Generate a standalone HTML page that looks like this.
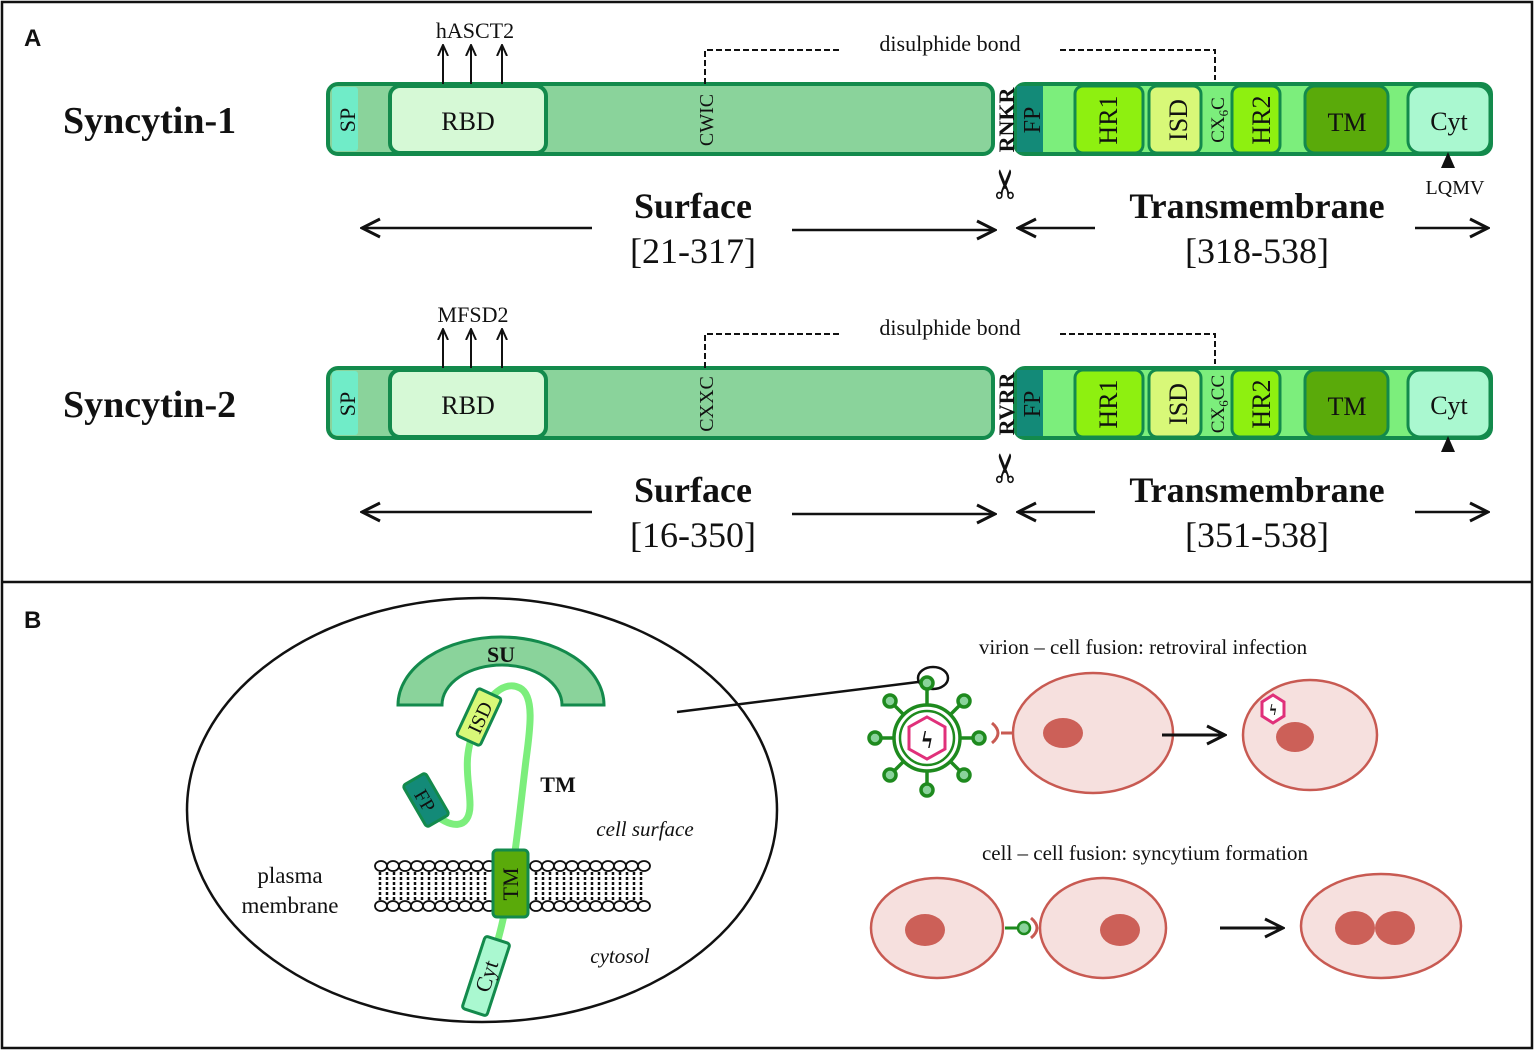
<!DOCTYPE html>
<html><head><meta charset="utf-8"><style>
html,body{margin:0;padding:0;background:#fff}
svg{display:block}
text{font-family:"Liberation Serif",serif;fill:#111}
</style></head><body>
<svg width="1535" height="1051" viewBox="0 0 1535 1051" xmlns="http://www.w3.org/2000/svg">
<defs>
<marker id="ah" markerWidth="12" markerHeight="12" refX="10" refY="6" orient="auto" markerUnits="userSpaceOnUse">
<path d="M0,1 L11,6 L0,11" fill="none" stroke="#111" stroke-width="2"/></marker>
<marker id="ab" markerWidth="22" markerHeight="22" refX="20" refY="11" orient="auto" markerUnits="userSpaceOnUse">
<path d="M2,2 L20,11 L2,20" fill="none" stroke="#111" stroke-width="3"/></marker>
<g id="bar">
<rect x="328" y="84" width="665" height="70" rx="10" fill="#8ad39b" stroke="#138a4c" stroke-width="4"/>
<rect x="332" y="87" width="26" height="64" rx="3" fill="#70ecc8"/>
<rect x="390" y="86" width="156" height="67" rx="10" fill="#d6f9d6" stroke="#138a4c" stroke-width="4"/>
<text x="468" y="130" font-size="26" text-anchor="middle">RBD</text>
<text transform="translate(355,120) rotate(-90)" font-size="22" text-anchor="middle">SP</text>
<rect x="1015" y="84" width="476" height="70" rx="10" fill="#7cee7c" stroke="#138a4c" stroke-width="4"/>
<rect x="1017" y="86" width="26" height="66" fill="#138a78"/>
<text transform="translate(1040,120) rotate(-90)" font-size="24" text-anchor="middle">FP</text>
<rect x="1075" y="86" width="68" height="67" rx="8" fill="#8ef010" stroke="#138a4c" stroke-width="3"/>
<text transform="translate(1117,120) rotate(-90)" font-size="26" text-anchor="middle">HR1</text>
<rect x="1149" y="86" width="52" height="67" rx="8" fill="#d8f878" stroke="#138a4c" stroke-width="3"/>
<rect x="1232" y="86" width="48" height="67" rx="8" fill="#8ef010" stroke="#138a4c" stroke-width="3"/>
<text transform="translate(1187,120) rotate(-90)" font-size="26" text-anchor="middle">ISD</text>
<text transform="translate(1270,120) rotate(-90)" font-size="26" text-anchor="middle">HR2</text>
<rect x="1305" y="86" width="83" height="67" rx="10" fill="#5aaa0a" stroke="#138a4c" stroke-width="3"/>
<text x="1347" y="131" font-size="26" text-anchor="middle">TM</text>
<rect x="1408" y="86" width="82" height="67" rx="12" fill="#aaf8d0" stroke="#138a4c" stroke-width="3"/>
<text x="1449" y="130" font-size="26" text-anchor="middle">Cyt</text>
<path d="M705,84 V50 H840 M1060,50 H1215 V80" fill="none" stroke="#111" stroke-width="2" stroke-dasharray="6,3"/>
<text x="950" y="51" font-size="22" text-anchor="middle">disulphide bond</text>
<line x1="443" y1="84" x2="443" y2="46" stroke="#111" stroke-width="2" marker-end="url(#ah)"/>
<line x1="471" y1="84" x2="471" y2="46" stroke="#111" stroke-width="2" marker-end="url(#ah)"/>
<line x1="502" y1="84" x2="502" y2="46" stroke="#111" stroke-width="2" marker-end="url(#ah)"/>
<text transform="translate(1006,184) rotate(-90)" font-size="40" text-anchor="middle" dominant-baseline="central">✂</text>
<path d="M1448,152 l-7,16 h14z" fill="#111"/>
<text x="693" y="218" font-size="36" font-weight="bold" text-anchor="middle">Surface</text>
<text x="1257" y="218" font-size="36" font-weight="bold" text-anchor="middle">Transmembrane</text>
<line x1="592" y1="228" x2="362" y2="228" stroke="#111" stroke-width="2.5" marker-end="url(#ab)"/>
<line x1="792" y1="230" x2="995" y2="230" stroke="#111" stroke-width="2.5" marker-end="url(#ab)"/>
<line x1="1095" y1="228" x2="1018" y2="228" stroke="#111" stroke-width="2.5" marker-end="url(#ab)"/>
<line x1="1415" y1="228" x2="1488" y2="228" stroke="#111" stroke-width="2.5" marker-end="url(#ab)"/>
</g>
</defs>
<rect x="2" y="2" width="1530" height="1046" fill="none" stroke="#111" stroke-width="2.5"/>
<line x1="2" y1="582" x2="1532" y2="582" stroke="#111" stroke-width="2.5"/>
<text x="24" y="46" font-size="24" font-weight="bold" style="font-family:'Liberation Sans',sans-serif">A</text>
<text x="24" y="628" font-size="24" font-weight="bold" style="font-family:'Liberation Sans',sans-serif">B</text>

<use href="#bar"/>
<text x="63" y="133" font-size="38" font-weight="bold">Syncytin-1</text>
<text x="475" y="38" font-size="22" text-anchor="middle">hASCT2</text>
<text transform="translate(713,120) rotate(-90)" font-size="20" text-anchor="middle">CWIC</text>
<text transform="translate(1014,120) rotate(-90)" font-size="22" font-weight="bold" text-anchor="middle">RNKR</text>
<text transform="translate(1224,120) rotate(-90)" font-size="19" text-anchor="middle">CX<tspan font-size="13" dy="4">6</tspan><tspan dy="-4">C</tspan></text>
<text x="1455" y="194" font-size="20" text-anchor="middle">LQMV</text>
<text x="693" y="263" font-size="36" text-anchor="middle">[21-317]</text>
<text x="1257" y="263" font-size="36" text-anchor="middle">[318-538]</text>

<g transform="translate(0,284)"><use href="#bar"/></g>
<text x="63" y="417" font-size="38" font-weight="bold">Syncytin-2</text>
<text x="473" y="322" font-size="22" text-anchor="middle">MFSD2</text>
<text transform="translate(713,404) rotate(-90)" font-size="20" text-anchor="middle">CXXC</text>
<text transform="translate(1014,404) rotate(-90)" font-size="22" font-weight="bold" text-anchor="middle">RVRR</text>
<text transform="translate(1224,404) rotate(-90)" font-size="19" text-anchor="middle">CX<tspan font-size="13" dy="4">6</tspan><tspan dy="-4">CC</tspan></text>
<text x="693" y="547" font-size="36" text-anchor="middle">[16-350]</text>
<text x="1257" y="547" font-size="36" text-anchor="middle">[351-538]</text>

<!-- Panel B -->
<ellipse cx="482" cy="810" rx="295" ry="212" fill="none" stroke="#111" stroke-width="2.5"/>
<line x1="677" y1="712" x2="918" y2="682" stroke="#111" stroke-width="2.5"/>
<path d="M398,705 A103,68 0 0 1 604,705 H562 A60,40 0 0 0 442,705 Z" fill="#8ad39b" stroke="#138a4c" stroke-width="3"/>
<text x="501" y="662" font-size="22" font-weight="bold" text-anchor="middle">SU</text>
<!-- membrane -->
<g>
<rect x="373" y="862" width="276" height="48" fill="#fff"/>
<g stroke="#111" stroke-width="2.5" stroke-dasharray="3,2">
<path d="M380,872 V900 M387,872 V900 M394,872 V900 M401,872 V900 M408,872 V900 M415,872 V900 M422,872 V900 M429,872 V900 M436,872 V900 M443,872 V900 M450,872 V900 M457,872 V900 M464,872 V900 M471,872 V900 M478,872 V900 M485,872 V900 M536,872 V900 M543,872 V900 M550,872 V900 M557,872 V900 M564,872 V900 M571,872 V900 M578,872 V900 M585,872 V900 M592,872 V900 M599,872 V900 M606,872 V900 M613,872 V900 M620,872 V900 M627,872 V900 M634,872 V900 M641,872 V900"/>
</g>
<g fill="#fff" stroke="#111" stroke-width="1.8" id="row">
<ellipse cx="381" cy="866" rx="6" ry="5"/><ellipse cx="393" cy="866" rx="6" ry="5"/><ellipse cx="405" cy="866" rx="6" ry="5"/><ellipse cx="417" cy="866" rx="6" ry="5"/><ellipse cx="429" cy="866" rx="6" ry="5"/><ellipse cx="441" cy="866" rx="6" ry="5"/><ellipse cx="453" cy="866" rx="6" ry="5"/><ellipse cx="465" cy="866" rx="6" ry="5"/><ellipse cx="477" cy="866" rx="6" ry="5"/><ellipse cx="489" cy="866" rx="6" ry="5"/>
<ellipse cx="536" cy="866" rx="6" ry="5"/><ellipse cx="548" cy="866" rx="6" ry="5"/><ellipse cx="560" cy="866" rx="6" ry="5"/><ellipse cx="572" cy="866" rx="6" ry="5"/><ellipse cx="584" cy="866" rx="6" ry="5"/><ellipse cx="596" cy="866" rx="6" ry="5"/><ellipse cx="608" cy="866" rx="6" ry="5"/><ellipse cx="620" cy="866" rx="6" ry="5"/><ellipse cx="632" cy="866" rx="6" ry="5"/><ellipse cx="644" cy="866" rx="6" ry="5"/>
</g>
<use href="#row" transform="translate(0,40)"/>
</g>
<!-- TM chain -->
<path d="M430,810 C450,830 470,830 470,805 C470,780 460,760 478,720 C488,695 505,680 520,688 C535,696 530,730 526,760 C520,810 515,860 510,880 C505,920 495,950 488,975" fill="none" stroke="#7cee7c" stroke-width="7"/>
<g transform="translate(426,800) rotate(60)"><rect x="-24" y="-13" width="48" height="26" rx="3" fill="#138a78" stroke="#138a4c" stroke-width="3"/><text x="0" y="8" font-size="20" text-anchor="middle">FP</text></g>
<g transform="translate(479,717) rotate(-65)"><rect x="-26" y="-13" width="52" height="26" rx="3" fill="#d8f878" stroke="#138a4c" stroke-width="3"/><text x="0" y="8" font-size="20" text-anchor="middle">ISD</text></g>
<rect x="493" y="850" width="35" height="67" rx="4" fill="#5aaa0a" stroke="#138a4c" stroke-width="3"/>
<text transform="translate(518,884) rotate(-90)" font-size="22" text-anchor="middle">TM</text>
<g transform="translate(486,976) rotate(-72)"><rect x="-38" y="-13" width="76" height="26" rx="3" fill="#aaf8d0" stroke="#138a4c" stroke-width="3"/><text x="0" y="8" font-size="22" text-anchor="middle">Cyt</text></g>
<text x="558" y="792" font-size="22" font-weight="bold" text-anchor="middle">TM</text>
<text x="645" y="836" font-size="21" font-style="italic" text-anchor="middle">cell surface</text>
<text x="620" y="963" font-size="21" font-style="italic" text-anchor="middle">cytosol</text>
<text x="290" y="883" font-size="23" text-anchor="middle">plasma</text>
<text x="290" y="913" font-size="23" text-anchor="middle">membrane</text>

<text x="1143" y="654" font-size="21" text-anchor="middle">virion – cell fusion: retroviral infection</text>
<text x="1145" y="860" font-size="21" text-anchor="middle">cell – cell fusion: syncytium formation</text>
<ellipse cx="933" cy="678" rx="15" ry="11" fill="none" stroke="#111" stroke-width="2.5"/>
<!-- virion -->
<g stroke="#1e8a1e" stroke-width="3.5" fill="#8ad39b">
<path d="M927,690 V786 M879,738 H975 M893,704 L961,772 M961,704 L893,772"/>
<circle cx="927" cy="738" r="33" fill="#fff"/>
<circle cx="927" cy="738" r="27" fill="#fff" stroke-width="2.5"/>
<circle cx="927" cy="683" r="6"/><circle cx="927" cy="790" r="6"/><circle cx="875" cy="738" r="6"/><circle cx="979" cy="738" r="6"/>
<circle cx="890" cy="701" r="6"/><circle cx="964" cy="701" r="6"/><circle cx="890" cy="775" r="6"/><circle cx="964" cy="775" r="6"/>
</g>
<polygon points="927,717 945,727 945,749 927,759 909,749 909,727" fill="#fff" stroke="#e0307a" stroke-width="3"/>
<text x="927" y="748" font-size="24" font-weight="bold" text-anchor="middle">ϟ</text>
<g stroke="#c85a52" stroke-width="2.5" fill="#f6e0de">
<ellipse cx="1093" cy="733" rx="80" ry="60"/>
<ellipse cx="1310" cy="735" rx="67" ry="55"/>
<ellipse cx="937" cy="928" rx="66" ry="50"/>
<ellipse cx="1103" cy="928" rx="63" ry="50"/>
<ellipse cx="1381" cy="926" rx="80" ry="52"/>
</g>
<g fill="#cc6058">
<ellipse cx="1063" cy="733" rx="20" ry="15"/><ellipse cx="1295" cy="737" rx="19" ry="15"/>
<ellipse cx="925" cy="930" rx="20" ry="16"/><ellipse cx="1120" cy="930" rx="20" ry="16"/>
<ellipse cx="1355" cy="928" rx="20" ry="17"/><ellipse cx="1395" cy="928" rx="20" ry="17"/>
</g>
<g fill="none" stroke="#c85a52" stroke-width="3">
<path d="M992,723 Q1004,733 992,743"/><line x1="1001" y1="733" x2="1013" y2="733"/>
<path d="M1031,918 Q1043,928 1031,938"/><line x1="1040" y1="928" x2="1041" y2="928"/>
</g>
<polygon points="1273,695 1284,702 1284,716 1273,723 1262,716 1262,702" fill="#fff" stroke="#e0307a" stroke-width="3"/>
<text x="1273" y="715" font-size="16" font-weight="bold" text-anchor="middle">ϟ</text>
<line x1="1005" y1="928" x2="1020" y2="928" stroke="#1e8a1e" stroke-width="3"/>
<circle cx="1024" cy="928" r="6" fill="#8ad39b" stroke="#1e8a1e" stroke-width="2.5"/>
<line x1="1162" y1="735" x2="1225" y2="735" stroke="#111" stroke-width="3" marker-end="url(#ab)"/>
<line x1="1220" y1="928" x2="1283" y2="928" stroke="#111" stroke-width="3" marker-end="url(#ab)"/>
</svg>
</body></html>
